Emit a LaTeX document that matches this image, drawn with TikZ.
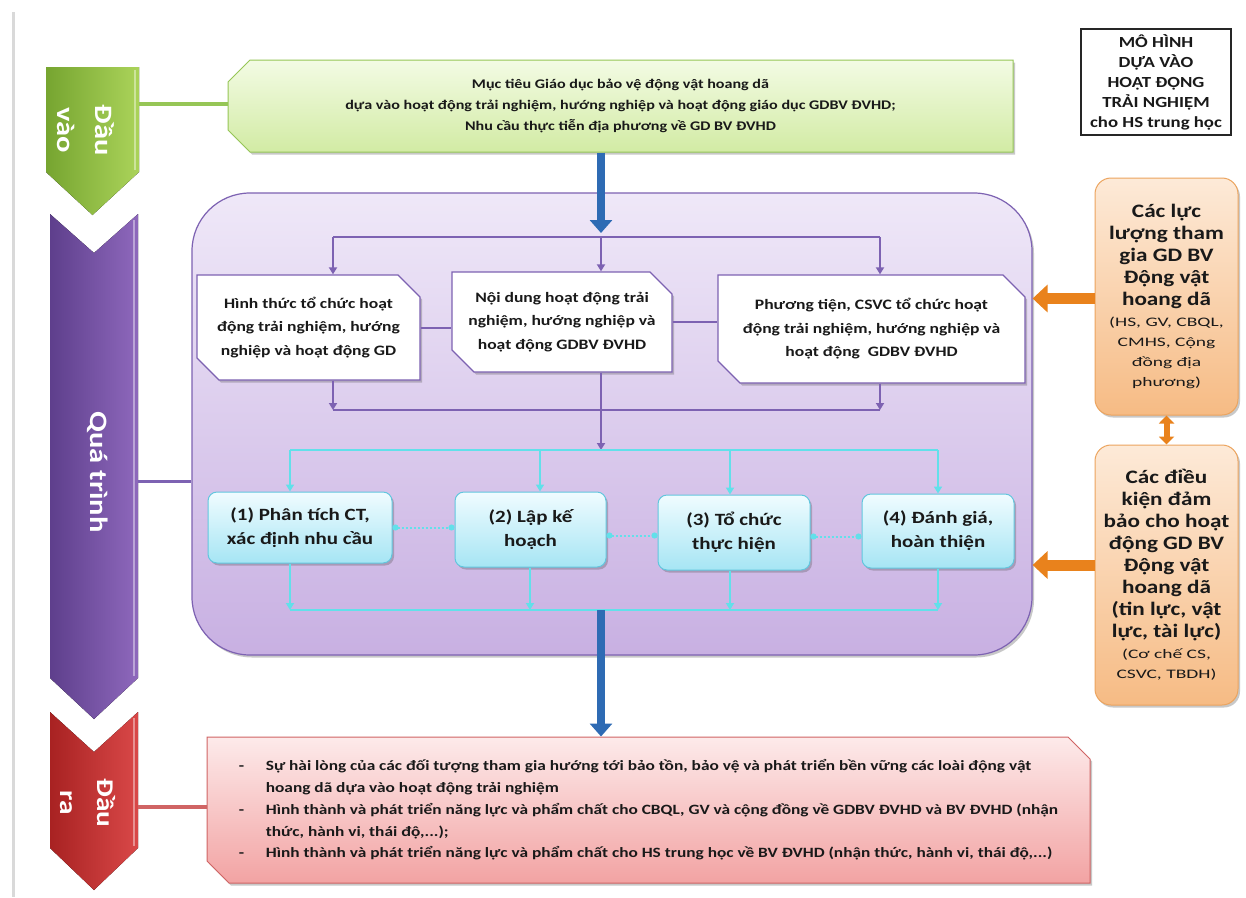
\documentclass[tikz,border=0pt]{standalone}
\usepackage{fontspec}
\setmainfont{Carlito}[FakeStretch=1.22]
\newfontfamily\widefont{Carlito}[FakeStretch=1.5]
\usetikzlibrary{arrows.meta,shapes.misc,shadows}

\definecolor{grnTop}{HTML}{F3FBE4}
\definecolor{grnBot}{HTML}{D2EBA4}
\definecolor{grnLine}{HTML}{96C656}
\definecolor{grnDark}{HTML}{76A530}
\definecolor{grnLight}{HTML}{ABD35A}
\definecolor{purDark}{HTML}{5E3F8C}
\definecolor{purLight}{HTML}{8E68BC}
\definecolor{purLine}{HTML}{7D62B2}
\definecolor{purTop}{HTML}{EFE8F8}
\definecolor{purBot}{HTML}{C8B0E2}
\definecolor{redDark}{HTML}{A82222}
\definecolor{redLight}{HTML}{D94848}
\definecolor{redTop}{HTML}{FDEAEA}
\definecolor{redBot}{HTML}{F2A3A3}
\definecolor{redLine}{HTML}{D06464}
\definecolor{cyaLine}{HTML}{62E0EA}
\definecolor{cyaTop}{HTML}{F0FCFF}
\definecolor{cyaBot}{HTML}{A6E5F4}
\definecolor{cyaEdge}{HTML}{62C6DE}
\definecolor{orgTop}{HTML}{FDEAD8}
\definecolor{orgBot}{HTML}{F6BB84}
\definecolor{orgEdge}{HTML}{ECA45E}
\definecolor{orgArrow}{HTML}{E9821C}
\definecolor{bluArrow}{HTML}{2E6BB4}

% smaller, wider lines inside the orange boxes
\newcommand{\subline}[1]{{\widefont\mdseries\fontsize{13}{20}\selectfont #1}}

\begin{document}
\begin{tikzpicture}[x=1pt,y=-1pt,
  txt/.style={font=\bfseries\fontsize{14}{21}\selectfont, align=center, text=black!90, inner sep=0pt},
  shadowed/.style={drop shadow={shadow xshift=2pt, shadow yshift=-2.5pt, opacity=0.3, fill=black!70}},
  snipbox/.style={chamfered rectangle, chamfered rectangle xsep=11pt, chamfered rectangle ysep=11pt},
  greenbox/.style={txt, font=\bfseries\fontsize{13.2}{21}\selectfont, snipbox, chamfered rectangle corners={north west,south west}, draw=grnLine, line width=1pt, top color=grnTop, bottom color=grnBot, shadowed},
  whitebox/.style={txt, font=\bfseries\fontsize{14.4}{23.5}\selectfont, snipbox, chamfered rectangle corners={north east,south west}, draw=purLine, line width=1.3pt, fill=white, shadowed},
  cyanbox/.style={txt, font=\bfseries\fontsize{17.2}{24}\selectfont, rectangle, rounded corners=9pt, draw=cyaEdge, line width=1pt, top color=cyaTop, bottom color=cyaBot, shadowed},
  orangebox/.style={txt, font=\bfseries\fontsize{19}{22}\selectfont, rectangle, rounded corners=16pt, draw=orgEdge, line width=1pt, top color=orgTop, bottom color=orgBot, shadowed},
  chevlabel/.style={font=\bfseries\fontsize{25}{38}\selectfont, text=white, align=center, rotate=-90, inner sep=0pt},
  pline/.style={draw=purLine, line width=2pt},
  parrow/.style={pline, -{Triangle[length=7pt,width=8pt]}},
  cline/.style={draw=cyaLine, line width=2.2pt},
  carrow/.style={cline, -{Triangle[length=7pt,width=8pt]}},
  cdots/.style={draw=cyaLine, line width=2pt, dotted, {Circle[length=6pt]}-{Circle[length=6pt]}},
  bluearrow/.style={draw=bluArrow, line width=8pt, -{Triangle[length=13pt,width=22pt]}},
  orangearrow/.style={draw=orgArrow, line width=11pt, -{Triangle[length=15pt,width=27pt]}},
  orangedouble/.style={draw=orgArrow, line width=6pt, {Triangle[length=8pt,width=15pt]}-{Triangle[length=8pt,width=15pt]}}
]
\useasboundingbox (0,0) rectangle (1246,897);
\fill[white] (0,0) rectangle (1246,897);

% left page rule
\draw[black!15, line width=3pt] (13,12) -- (13,897);

% ---------- stage chevrons ----------
\fill[left color=grnDark, right color=grnLight]
  (46,67) -- (139,67) -- (139,172) -- (92.5,215) -- (46,172) -- cycle;
\draw[grnLight!60!white, line width=1.2pt] (135,70) -- (135,170);
\node[chevlabel] (vao) at (86,130) {Đầu\\vào};
\coordinate (vaoR) at (139,104);

\fill[left color=purDark, right color=purLight]
  (50,214) -- (94,253) -- (138,214) -- (138,678) -- (94,719) -- (50,678) -- cycle;
\draw[purLight!60!white, line width=1.2pt] (134,220) -- (134,676);
\node[chevlabel] (qtr) at (98,472) {Quá trình};
\coordinate (qtrR) at (138,481);

\fill[left color=redDark, right color=redLight]
  (50,712) -- (94,752) -- (138,712) -- (138,848) -- (94,890) -- (50,848) -- cycle;
\draw[redLight!60!white, line width=1.2pt] (134,718) -- (134,846);
\node[chevlabel, font=\bfseries\fontsize{24}{37}\selectfont] (ra) at (88,803) {Đầu\\ra};
\coordinate (raR) at (138,807);

% ---------- title ----------
\node[txt, draw=black!85, line width=1.3pt, minimum width=150pt, minimum height=106pt,
      font=\bfseries\fontsize{15.4}{20}\selectfont] (title) at (1156,82)
  {MÔ HÌNH\\DỰA VÀO\\HOẠT ĐỘNG\\TRẢI NGHIỆM\\cho HS trung học};

% ---------- input ----------
\node[greenbox, minimum width=785pt, minimum height=92pt] (goal) at (620.5,106)
  {Mục tiêu Giáo dục bảo vệ động vật hoang dã\\
   dựa vào hoạt động trải nghiệm, hướng nghiệp và hoạt động giáo dục GDBV ĐVHD;\\
   Nhu cầu thực tiễn địa phương về GD BV ĐVHD};
\draw[grnLine, line width=4pt] (vaoR) -- (vaoR -| goal.west);

% ---------- process container ----------
\node[rectangle, rounded corners=58pt, draw=purLine, line width=1.2pt,
      top color=purTop, bottom color=purBot, minimum width=840pt, minimum height=462pt, shadowed]
  (proc) at (612,424) {};
\draw[purLine, line width=3pt] (qtrR) -- (qtrR -| proc.west);

% three components
\node[whitebox, minimum width=223pt, minimum height=105pt] (form) at (308.5,327.5)
  {Hình thức tổ chức hoạt\\động trải nghiệm, hướng\\nghiệp và hoạt động GD};
\node[whitebox, minimum width=220pt, minimum height=100pt] (cont) at (562,322)
  {Nội dung hoạt động trải\\nghiệm, hướng nghiệp và\\hoạt động GDBV ĐVHD};
\node[whitebox, minimum width=307pt, minimum height=108pt] (means) at (871.5,329)
  {Phương tiện, CSVC tổ chức hoạt\\động trải nghiệm, hướng nghiệp và\\hoạt động\ \ GDBV ĐVHD};
\draw[pline] (form.east) -- (form.east -| cont.west);
\draw[pline] (cont.east) -- (cont.east -| means.west);

% split into the three components
\coordinate (sL) at (333,237);
\coordinate (sC) at (601,237);
\coordinate (sR) at (880,237);
\draw[pline] (sL) -- (sR);
\draw[parrow] (sL) -- (sL |- form.north);
\draw[parrow] (sC) -- (sC |- cont.north);
\draw[parrow] (sR) -- (sR |- means.north);
\draw[bluearrow] (goal.south -| sC) -- ([yshift=4pt]sC);

% merge below the components
\coordinate (mL) at (333,410);
\coordinate (mC) at (601,410);
\coordinate (mR) at (880,410);
\draw[parrow] (mL |- form.south) -- (mL);
\draw[parrow] (mR |- means.south) -- (mR);
\draw[pline] (mC |- cont.south) -- (mC);
\draw[pline] (mL) -- (mR);

% four steps
\node[cyanbox, minimum width=184pt, minimum height=71pt] (st1) at (300,527.5)
  {(1) Phân tích CT,\\xác định nhu cầu};
\node[cyanbox, minimum width=151pt, minimum height=75pt] (st2) at (530.5,529.5)
  {(2) Lập kế\\hoạch};
\node[cyanbox, minimum width=152pt, minimum height=75pt] (st3) at (734,532.5)
  {(3) Tổ chức\\thực hiện};
\node[cyanbox, minimum width=152pt, minimum height=74pt] (st4) at (938,531)
  {(4) Đánh giá,\\hoàn thiện};

\coordinate (tL) at (290,450);
\coordinate (tC) at (601,450);
\coordinate (tR) at (938,450);
\draw[parrow] (mC) -- (tC);
\draw[cline] (tL) -- (tR);
\draw[carrow] (tL) -- (tL |- st1.north);
\draw[carrow] (540,0 |- tC) -- (540,0 |- st2.north);
\draw[carrow] (730,0 |- tC) -- (730,0 |- st3.north);
\draw[carrow] (tR) -- (tR |- st4.north);

\draw[cdots] (st1.east) -- (st1.east -| st2.west);
\draw[cdots] ([yshift=-6pt]st2.east) -- ([yshift=-6pt]st2.east -| st3.west);
\draw[cdots] ([yshift=-4pt]st3.east) -- ([yshift=-4pt]st3.east -| st4.west);

\coordinate (bL) at (290,610);
\coordinate (bC) at (601,610);
\coordinate (bR) at (938,610);
\draw[cline] (bL) -- (bR);
\draw[carrow] (bL |- st1.south) -- (bL);
\draw[carrow] (530,0 |- st2.south) -- (530,0 |- bL);
\draw[carrow] (730,0 |- st3.south) -- (730,0 |- bL);
\draw[carrow] (bR |- st4.south) -- (bR);

% ---------- output ----------
\node[txt, snipbox, chamfered rectangle corners={north east,south west},
      draw=redLine, line width=1pt, top color=redTop, bottom color=redBot, shadowed,
      minimum width=883pt, minimum height=146pt, align=left,
      font=\bfseries\fontsize{14.2}{21.7}\selectfont] (result) at (648.5,810)
  {\makebox[27pt][l]{-}Sự hài lòng của các đối tượng tham gia hướng tới bảo tồn, bảo vệ và phát triển bền vững các loài động vật\\
   \hspace*{27pt}hoang dã dựa vào hoạt động trải nghiệm\\
   \makebox[27pt][l]{-}Hình thành và phát triển năng lực và phẩm chất cho CBQL, GV và cộng đồng về GDBV ĐVHD và BV ĐVHD (nhận\\
   \hspace*{27pt}thức, hành vi, thái độ,...);\\
   \makebox[27pt][l]{-}Hình thành và phát triển năng lực và phẩm chất cho HS trung học về BV ĐVHD (nhận thức, hành vi, thái độ,...)};
\draw[redLine, line width=4pt] (raR) -- (raR -| result.west);
\draw[bluearrow] (bC) -- (result.north -| bC);

% ---------- supporting factors ----------
\node[orangebox, minimum width=143pt, minimum height=237pt] (forces) at (1166.5,296.5)
  {Các lực\\lượng tham\\gia GD BV\\Động vật\\hoang dã\\[-1pt]
   \subline{(HS, GV, CBQL,}\\[-2pt]
   \subline{CMHS, Cộng}\\[-2pt]
   \subline{đồng địa}\\[-2pt]
   \subline{phương)}};
\node[orangebox, minimum width=143pt, minimum height=260pt] (conds) at (1166.5,575)
  {Các điều\\kiện đảm\\bảo cho hoạt\\động GD BV\\Động vật\\hoang dã\\(tin lực, vật\\lực, tài lực)\\[-1pt]
   \subline{(Cơ chế CS,}\\[-2pt]
   \subline{CSVC, TBDH)}};
\draw[orangedouble] (forces.south) -- (conds.north);
\draw[orangearrow] ([yshift=-2pt]forces.west) -- ([yshift=-2pt]forces.west -| proc.east);
\draw[orangearrow] ([yshift=10pt]conds.west) -- ([yshift=10pt]conds.west -| proc.east);
\end{tikzpicture}
\end{document}
